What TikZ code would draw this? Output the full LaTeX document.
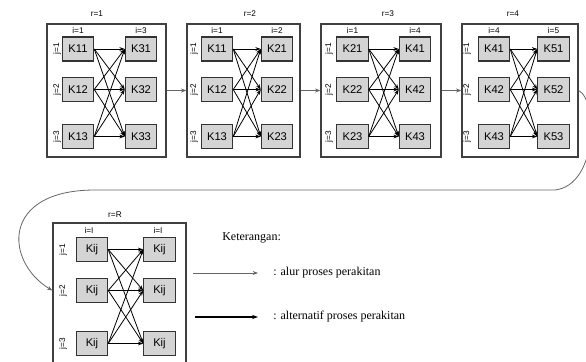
\documentclass[tikz,border=0pt]{standalone}
\usepackage{fontspec}
\setmainfont{Liberation Serif}
\setsansfont{Liberation Sans}
\usetikzlibrary{arrows.meta}
\begin{document}
\begin{tikzpicture}[x=0.75pt,y=-0.75pt,
  kbox/.style={draw=black!80, fill=black!17, line width=0.85pt,
    minimum width=23.5pt, minimum height=18pt, inner sep=0pt,
    font=\sffamily\fontsize{8.4}{9}\selectfont},
  frame/.style={draw=black!75, line width=0.95pt, inner sep=0pt},
  small/.style={font=\sffamily\fontsize{6.2}{7}\selectfont, inner sep=0pt},
  choice/.style={-{Stealth[length=4pt,width=2.8pt]}, line width=0.6pt, black},
  flow/.style={-{Stealth[length=4pt,width=3pt]}, line width=0.6pt, black!60},
  legendtext/.style={anchor=west, inner sep=0pt, font=\fontsize{9}{10}\selectfont},
]
\useasboundingbox (0,0) rectangle (586,361);
\clip (0,0) rectangle (586,361);

% stages r=1 ... r=4
\foreach \n/\xa/\xb/\cl/\cr/\jx/\rx/\rl/\il/\ir/\la/\lb/\lc/\ra/\rb/\rc in {
  b1/47/166/78/141/57/97/1/1/3/K11/K12/K13/K31/K32/K33,
  b2/187/300/217/277/194/250/2/1/2/K11/K12/K13/K21/K22/K23,
  b3/321/441/352.5/415/329/388/3/1/4/K21/K22/K23/K41/K42/K43,
  b4/462/578/494/553.5/467/513/4/4/5/K41/K42/K43/K51/K52/K53}{
  \pgfmathsetmacro\bw{(\xb-\xa)*0.75}
  \node[frame, minimum width=\bw pt, minimum height=99.75pt] (\n) at ({(\xa+\xb)/2},90.5) {};
  \node[small] (\n-lab) at (\rx,14) {r=\rl};
  \node[small] (\n-i1) at (\cl,31) {i=\il};
  \node[small] (\n-i2) at (\cr,31) {i=\ir};
  \node[kbox] (\n-l1) at (\cl,49) {\la};
  \node[kbox] (\n-l2) at (\cl,89.5) {\lb};
  \node[kbox] (\n-l3) at (\cl,136.5) {\lc};
  \node[kbox] (\n-r1) at (\cr,49) {\ra};
  \node[kbox] (\n-r2) at (\cr,89.5) {\rb};
  \node[kbox] (\n-r3) at (\cr,136.5) {\rc};
  \node[small, rotate=90] (\n-j1) at (\jx,49) {j=1};
  \node[small, rotate=90] (\n-j2) at (\jx,89.5) {j=2};
  \node[small, rotate=90] (\n-j3) at (\jx,136.5) {j=3};
  \foreach \a in {1,2,3}
    \foreach \b in {1,2,3}
      \draw[choice] (\n-l\a.east) -- (\n-r\b.west);
}

% general stage r=R
\node[frame, minimum width=99.75pt, minimum height=112.5pt] (R) at (119.5,298) {};
\node[small] (R-lab) at (115,215) {r=R};
\node[small] (R-i1) at (89,231) {i=I};
\node[small] (R-i2) at (158,231) {i=I};
\foreach \k/\y in {1/249.5,2/290.5,3/343.5}{
  \node[kbox] (R-l\k) at (92,\y) {Kij};
  \node[kbox] (R-r\k) at (159.5,\y) {Kij};
  \node[small, rotate=90] (R-j\k) at (63,\y) {j=\k};
}
\foreach \a in {1,2,3}
  \foreach \b in {1,2,3}
    \draw[choice] (R-l\a.east) -- (R-r\b.west);

% assembly flow between stages
\draw[flow] (b1.east) -- (b2.west);
\draw[flow] (b2.east) -- (b3.west);
\draw[flow] (b3.east) -- (b4.west);
\draw[flow] (b4.east) .. controls (598,100) and (598,185) .. (555,190)
  -- (95,190) .. controls (0,190) and (5,262) .. (R.west |- R-l2);

% legend
\node[legendtext] (key) at (222,238) {Keterangan:};
\coordinate (fa) at (193,273);
\coordinate (fb) at (258,273);
\draw[flow] (fa) -- (fb);
\node[legendtext] (ft) at (273,273) {: alur proses perakitan};
\coordinate (ca) at (195,317);
\coordinate (cb) at (258,317);
\draw[-{Stealth[length=4.5pt,width=3.2pt]}, line width=0.8pt, black] (ca) -- (cb);
\node[legendtext] (ct) at (273,317) {: alternatif proses perakitan};
\end{tikzpicture}
\end{document}
